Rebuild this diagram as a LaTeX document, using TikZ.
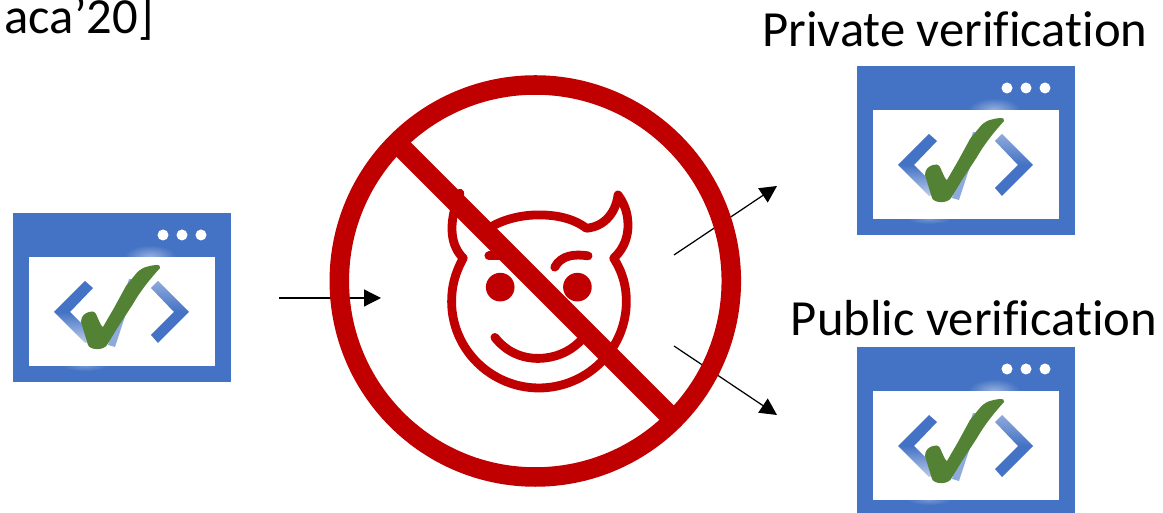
\documentclass[tikz,border=0pt]{standalone}
\usepackage{fontspec}
\setmainfont{Carlito}[Ligatures=NoCommon]
\usepackage{xcolor}
\definecolor{appBlue}{HTML}{4472C4}
\definecolor{appPale}{HTML}{8FAADC}
\definecolor{appGreen}{HTML}{548235}
\definecolor{banRed}{HTML}{C00000}
\usetikzlibrary{arrows.meta}
\tikzset{
  flow/.style={->, line width=0.35pt},
  caption/.style={inner sep=0pt, font=\fontsize{14.4pt}{17pt}\selectfont},
  devil/.style={banRed, line width=2.5pt, line cap=round, line join=round},
  pics/webapp/.style={code={
    % window
    \fill[appBlue] (0,0) rectangle (218,169);
    \shade[inner color=white!45!appBlue, outer color=appBlue] (137,44) ellipse (26 and 12);
    \shade[inner color=white!25!appBlue, outer color=appBlue] (72,153) ellipse (22 and 5);
    \fill[white] (16,44) rectangle (202,153);
    \foreach \dotx in {150,169,188}
      \fill[white] (\dotx,22) circle (5.5);
    % code brackets
    \shade[top color=appBlue, bottom color=appPale!60!white, middle color=appBlue]
      (72,68) -- (80,75) -- (57,99) -- (84,126) -- (72,130) -- (41,99) -- cycle;
    \shade[top color=appPale, bottom color=appBlue, middle color=appBlue]
      (145,68) -- (176,99) -- (145,130) -- (138,122) -- (161,99) -- (138,75) -- cycle;
    \fill[appPale] (116,66) -- (124,67) -- (102,134) -- (95,132) -- cycle;
    % check mark
    \fill[appGreen] (147,55) .. controls (148,53) and (146,52) .. (143,52)
      .. controls (135,53) and (128,54) .. (122,62) -- (113,73) -- (101,95) -- (90,114)
      .. controls (88,113) and (87,110) .. (83,101) .. controls (81,98) and (78,98) .. (76,99)
      .. controls (72,100) and (68,103) .. (68,109)
      -- (75,132) .. controls (77,137) and (90,138) .. (94,132)
      -- (105,114) -- (120,91) .. controls (128,77) and (138,65) .. (147,55) -- cycle;
  }}
}

\begin{document}
\begin{tikzpicture}[x=0.01cm, y=-0.01cm, >={Triangle[length=4.8pt, width=4.8pt]}]
  \useasboundingbox (0,0) rectangle (1163,513);
  \clip (0,0) rectangle (1163,513);
  % application windows
  \pic at (13,213) {webapp};
  \pic at (857,66) {webapp};
  \pic at (857,347) {webapp};
  % labels
  \node[caption, anchor=base west] (citeLabel) at (4,34) {aca’20]};
  \node[caption, anchor=base] (privateLabel) at (955,47) {Private verification};
  \node[caption, anchor=base] (publicLabel) at (974,336) {Public verification};
  % devil face
  \begin{scope}[shift={(420,170)}, x=0.00333cm, y=-0.00333cm]
    \draw[devil] (215,170) .. controls (250,150) and (300,135) .. (357,135)
      .. controls (410,135) and (460,145) .. (500,175)
      .. controls (560,170) and (590,120) .. (595,75)
      .. controls (610,95) and (625,125) .. (625,165)
      .. controls (625,190) and (620,230) .. (582,265)
      .. controls (610,310) and (620,350) .. (620,395)
      .. controls (620,540) and (500,655) .. (357,655)
      .. controls (215,655) and (95,540) .. (95,395)
      .. controls (95,350) and (105,310) .. (130,265)
      .. controls (95,230) and (80,170) .. (120,70);
    \fill[banRed] (241,352) circle (43);
    \fill[banRed] (473,352) circle (43);
    \draw[devil] (405,292) .. controls (425,255) and (465,252) .. (505,258);
    \draw[devil] (207,258) -- (250,258);
    \draw[devil] (225,503) .. controls (270,560) and (330,570) .. (375,565)
      .. controls (420,560) and (460,540) .. (490,505);
  \end{scope}
  % arrows
  \coordinate (inStart) at (279,298);
  \coordinate (inEnd) at (381,298);
  \coordinate (privStart) at (674,255);
  \coordinate (privEnd) at (777,186);
  \coordinate (pubStart) at (674,346);
  \coordinate (pubEnd) at (777,415);
  \draw[flow] (inStart) -- (inEnd);
  \draw[flow] (privStart) -- (privEnd);
  \draw[flow] (pubStart) -- (pubEnd);
  % ban sign
  \draw[banRed, line width=5.55pt] (535.3,281) circle (196);
  \draw[banRed, line width=5.8pt] (396,142) -- (674,420);
\end{tikzpicture}
\end{document}
